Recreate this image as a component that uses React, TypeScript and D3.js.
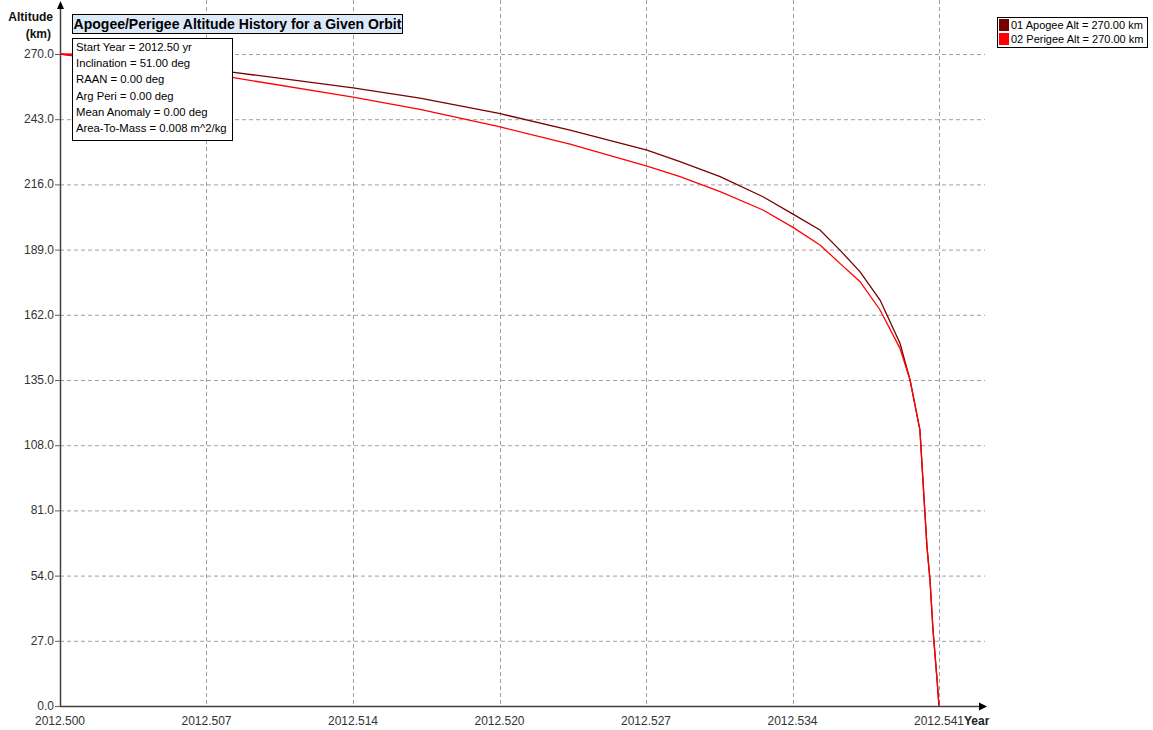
import React from "react";
import * as d3 from "d3";

const years = [2012.5, 2012.50802, 2012.51367, 2012.51679, 2012.52048, 2012.52379, 2012.52738, 2012.52892, 2012.53079, 2012.53279, 2012.53419, 2012.53545, 2012.53638, 2012.53732, 2012.53825, 2012.53918, 2012.53965, 2012.54011, 2012.54025, 2012.54044, 2012.54058, 2012.54072, 2012.54091, 2012.541];
const apogeeAlt = [270, 262.5, 256.0, 251.7, 245.4, 238.5, 230.2, 225.4, 219.2, 210.9, 203.7, 197.1, 188.8, 179.8, 168.1, 150.2, 135.0, 114.3, 93.6, 65.8, 52.2, 31.5, 10.8, 0];
const perigeeAlt = [270, 260.3, 252.1, 247.1, 239.9, 232.7, 223.6, 219.2, 213.0, 205.4, 198.2, 190.9, 183.3, 175.7, 164.0, 148.1, 135.0, 114.3, 93.6, 65.8, 52.2, 31.5, 10.8, 0];

const xTickValues = [2012.5, 2012.506833, 2012.513667, 2012.5205, 2012.527333, 2012.534167, 2012.541];
const xTickLabels = ["2012.500", "2012.507", "2012.514", "2012.520", "2012.527", "2012.534", "2012.541"];
const yTickValues = [0, 27, 54, 81, 108, 135, 162, 189, 216, 243, 270];

const infoLines = [
  "Start Year = 2012.50 yr",
  "Inclination = 51.00 deg",
  "RAAN = 0.00 deg",
  "Arg Peri = 0.00 deg",
  "Mean Anomaly = 0.00 deg",
  "Area-To-Mass = 0.008 m^2/kg",
];
const legendItems = [
  { label: "01 Apogee Alt = 270.00 km", color: "#780000" },
  { label: "02 Perigee Alt = 270.00 km", color: "#ff0000" },
];
const titleText = "Apogee/Perigee Altitude History for a Given Orbit";

export default function App() {
  const W = 1153, H = 730;
  const x = d3.scaleLinear().domain([2012.5, 2012.541]).range([60, 939]);
  const y = d3.scaleLinear().domain([0, 270]).range([706, 54]);
  const axisEnd = 985;
  const font = "'Liberation Sans', Arial, sans-serif";

  const line = d3.line<[number, number]>().x((d) => x(d[0])).y((d) => y(d[1]));
  const apo = line(years.map((v, i) => [v, apogeeAlt[i]] as [number, number]));
  const per = line(years.map((v, i) => [v, perigeeAlt[i]] as [number, number]));

  return (
    <svg width={W} height={H} style={{ position: "absolute", left: 0, top: 0, background: "#fff" }} fontFamily={font}>
      {/* grid */}
      {yTickValues.slice(1).map((t) => (
        <line key={"gy" + t} x1={60} x2={axisEnd} y1={y(t) + 0.5} y2={y(t) + 0.5} stroke="#a0a0a0" strokeDasharray="4,3" />
      ))}
      {xTickValues.slice(1).map((t) => (
        <line key={"gx" + t} x1={Math.round(x(t)) + 0.5} x2={Math.round(x(t)) + 0.5} y1={0} y2={706} stroke="#a0a0a0" strokeDasharray="4,3" />
      ))}
      {/* series */}
      <path d={apo || ""} fill="none" stroke="#780000" strokeWidth={1.3} />
      <path d={per || ""} fill="none" stroke="#ff0000" strokeWidth={1.3} />
      {/* axes */}
      <line x1={60.5} x2={60.5} y1={8} y2={706} stroke="#404040" strokeWidth={1.5} />
      <path d="M60.5,1 L57,9 L64,9 Z" fill="#000" />
      <line x1={60} x2={axisEnd - 2} y1={706.5} y2={706.5} stroke="#404040" strokeWidth={1.5} />
      <path d={`M${axisEnd + 2},706.5 L${axisEnd - 6},702.5 L${axisEnd - 6},710.5 Z`} fill="#000" />
      {yTickValues.map((t) => (
        <g key={"yt" + t}>
          <line x1={55} x2={60} y1={y(t) + 0.5} y2={y(t) + 0.5} stroke="#606060" />
          <text x={54} y={y(t) + 4} textAnchor="end" fontSize={12} fill="#333">{t.toFixed(1)}</text>
        </g>
      ))}
      <text x={964} y={725} fontSize={12} fontWeight="bold" fill="#222">Year</text>
      {xTickValues.map((t, i) => (
        <text key={"xt" + i} x={x(t)} y={725} textAnchor="middle" fontSize={12} fill="#333">{xTickLabels[i]}</text>
      ))}
      <text x={53} y={21} textAnchor="end" fontSize={12} fontWeight="bold" fill="#111">Altitude</text>
      <text x={51} y={38} textAnchor="end" fontSize={12} fontWeight="bold" fill="#111">(km)</text>
      {/* red start marker */}
      <line x1={60} x2={72} y1={y(270)} y2={y(270)} stroke="#ff0000" strokeWidth={1.3} />
      {/* title */}
      <rect x={72.5} y={14.5} width={330} height={19} fill="#dce9f8" stroke="#000" />
      <text x={237.5} y={29} textAnchor="middle" fontSize={14} fontWeight="bold" fill="#000">{titleText}</text>
      {/* info box */}
      <rect x={72.5} y={38.5} width={160} height={102} fill="#fff" stroke="#000" />
      {infoLines.map((s, i) => (
        <text key={"info" + i} x={76} y={51 + i * 16.2} fontSize={11.3} fill="#000">{s}</text>
      ))}
      {/* legend */}
      <rect x={997.5} y={17.5} width={150} height={30} fill="#fff" stroke="#000" />
      {legendItems.map((it, i) => (
        <g key={"lg" + i}>
          <rect x={999} y={19 + i * 14} width={10} height={12} fill={it.color} />
          <text x={1011} y={29 + i * 14} fontSize={11} fill="#000">{it.label}</text>
        </g>
      ))}
    </svg>
  );
}
